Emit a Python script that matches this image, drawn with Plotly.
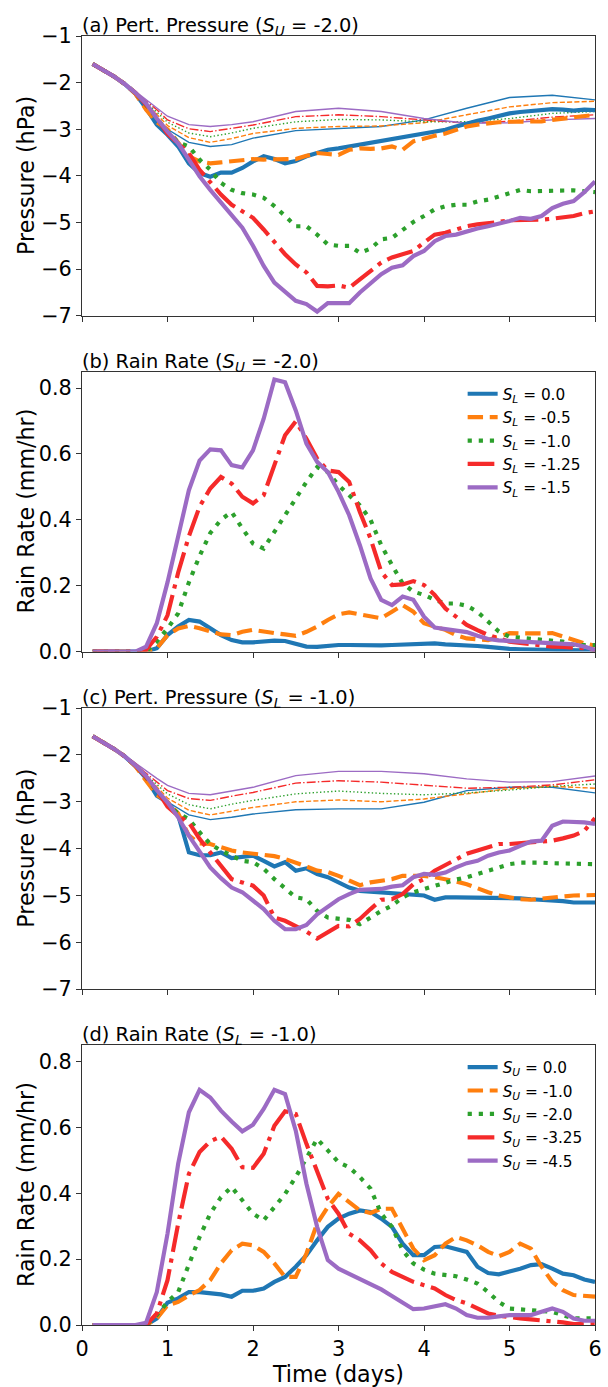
import plotly.graph_objects as go

# ---------------- data ----------------
T = [0.125, 0.25, 0.375, 0.5, 0.625, 0.75, 0.875, 1.0, 1.125, 1.25, 1.375, 1.5,
     1.625, 1.75, 1.875, 2.0, 2.125, 2.25, 2.375, 2.5, 2.625, 2.75, 2.875, 3.0,
     3.125, 3.25, 3.375, 3.5, 3.625, 3.75, 3.875, 4.0, 4.125, 4.25, 4.375, 4.5,
     4.625, 4.75, 4.875, 5.0, 5.125, 5.25, 5.375, 5.5, 5.625, 5.75, 5.875, 6.0]
TT = [0.125, 0.25, 0.5, 0.75, 0.875, 1.0, 1.25, 1.5, 1.75, 2.0, 2.5, 3.0, 3.5,
      4.0, 4.5, 5.0, 5.5, 6.0]

SL_labels = ["0.0", "-0.5", "-1.0", "-1.25", "-1.5"]
SU_labels = ["0.0", "-1.0", "-2.0", "-3.25", "-4.5"]

# (a) pressure, S_U = -2.0, thick lines
pa_blue = [-1.6, -1.73, -1.87, -2.03, -2.24, -2.55, -2.9, -3.12, -3.37, -3.73, -3.94, -4.02,
           -3.93, -3.93, -3.83, -3.69, -3.58, -3.64, -3.73, -3.68, -3.58, -3.51, -3.44, -3.41,
           -3.37, -3.33, -3.30, -3.27, -3.23, -3.19, -3.14, -3.09, -3.05, -3.01, -2.94, -2.87,
           -2.82, -2.77, -2.71, -2.66, -2.63, -2.61, -2.59, -2.57, -2.58, -2.60, -2.58, -2.59]
pa_orange = [-1.6, -1.73, -1.87, -2.03, -2.24, -2.58, -2.85, -3.0, -3.28, -3.58, -3.69, -3.73,
             -3.71, -3.69, -3.66, -3.64, -3.65, -3.65, -3.66, -3.64, -3.57, -3.51, -3.53, -3.55,
             -3.44, -3.41, -3.42, -3.41, -3.37, -3.44, -3.26, -3.19, -3.14, -3.09, -3.02, -2.94,
             -2.90, -2.87, -2.85, -2.84, -2.84, -2.84, -2.83, -2.80, -2.77, -2.73, -2.71, -2.69]
pa_green = [-1.6, -1.73, -1.87, -2.03, -2.22, -2.48, -2.78, -3.05, -3.28, -3.37, -3.65, -3.87,
            -4.15, -4.3, -4.37, -4.4, -4.47, -4.65, -4.86, -5.08, -5.08, -5.26, -5.47, -5.5,
            -5.5, -5.65, -5.56, -5.36, -5.33, -5.15, -4.99, -4.86, -4.72, -4.65, -4.62, -4.62,
            -4.55, -4.51, -4.44, -4.38, -4.3, -4.33, -4.32, -4.33, -4.32, -4.31, -4.33, -4.35]
pa_red = [-1.6, -1.73, -1.87, -2.03, -2.22, -2.47, -2.75, -3.1, -3.3, -3.51, -3.87, -4.15,
          -4.4, -4.62, -4.76, -4.9, -5.15, -5.43, -5.68, -5.9, -6.07, -6.36, -6.37, -6.35,
          -6.4, -6.22, -6.04, -5.86, -5.75, -5.68, -5.61, -5.43, -5.26, -5.22, -5.15, -5.08,
          -5.04, -5.02, -4.99, -4.95, -4.95, -4.95, -4.94, -4.92, -4.9, -4.86, -4.8, -4.76]
pa_purple = [-1.6, -1.73, -1.87, -2.03, -2.22, -2.45, -2.77, -3.05, -3.3, -3.65, -4.01, -4.3,
             -4.58, -4.83, -5.11, -5.5, -5.93, -6.29, -6.5, -6.68, -6.75, -6.91, -6.73, -6.73,
             -6.73, -6.5, -6.29, -6.11, -5.97, -5.92, -5.72, -5.61, -5.4, -5.29, -5.26, -5.19,
             -5.13, -5.08, -5.03, -4.97, -4.9, -4.92, -4.86, -4.69, -4.6, -4.54, -4.35, -4.12]
# (a) thin lines
pa_blue_t = [-1.6, -1.73, -2.05, -2.5, -2.75, -3.0, -3.28, -3.37, -3.33, -3.19, -3.03, -2.98,
             -2.94, -2.8, -2.55, -2.32, -2.27, -2.37]
pa_orange_t = [-1.6, -1.73, -2.04, -2.45, -2.68, -2.92, -3.18, -3.28, -3.2, -3.09, -2.98, -2.94,
               -2.93, -2.86, -2.69, -2.52, -2.43, -2.4]
pa_green_t = [-1.6, -1.73, -2.03, -2.42, -2.63, -2.85, -3.08, -3.16, -3.08, -2.98, -2.84, -2.79,
              -2.8, -2.84, -2.84, -2.77, -2.66, -2.62]
pa_red_t = [-1.6, -1.73, -2.02, -2.4, -2.58, -2.8, -2.99, -3.05, -2.98, -2.91, -2.73, -2.69,
            -2.73, -2.8, -2.87, -2.83, -2.74, -2.69]
pa_purple_t = [-1.6, -1.73, -2.01, -2.37, -2.55, -2.72, -2.9, -2.94, -2.9, -2.84, -2.62, -2.55,
               -2.62, -2.77, -2.87, -2.86, -2.8, -2.77]

# (b) rain rate, S_U = -2.0
rb_blue = [0, 0, 0, 0, 0, 0, 0.01, 0.05, 0.076, 0.096, 0.091, 0.071,
           0.05, 0.035, 0.028, 0.028, 0.032, 0.033, 0.032, 0.022, 0.015, 0.014, 0.018, 0.02,
           0.02, 0.019, 0.02, 0.019, 0.02, 0.021, 0.022, 0.022, 0.025, 0.022, 0.021, 0.02,
           0.017, 0.014, 0.01, 0.008, 0.007, 0.006, 0.006, 0.006, 0.005, 0.004, 0.003, 0.003]
rb_orange = [0, 0, 0, 0, 0, 0, 0.01, 0.05, 0.07, 0.078, 0.071, 0.06,
             0.052, 0.05, 0.06, 0.066, 0.06, 0.056, 0.052, 0.048, 0.06, 0.076, 0.096, 0.113,
             0.119, 0.113, 0.106, 0.101, 0.121, 0.141, 0.121, 0.086, 0.076, 0.066, 0.05, 0.04,
             0.037, 0.035, 0.045, 0.056, 0.055, 0.054, 0.055, 0.056, 0.045, 0.035, 0.025, 0.018]
rb_green = [0, 0, 0, 0, 0, 0, 0.03, 0.07, 0.116, 0.21, 0.29, 0.36,
            0.40, 0.424, 0.374, 0.328, 0.313, 0.364, 0.414, 0.465, 0.515, 0.56, 0.545, 0.505,
            0.475, 0.444, 0.40, 0.323, 0.263, 0.207, 0.182, 0.172, 0.157, 0.146, 0.146, 0.139,
            0.121, 0.091, 0.061, 0.045, 0.042, 0.04, 0.037, 0.035, 0.03, 0.02, 0.02, 0.02]
rb_red = [0, 0, 0, 0, 0, 0.005, 0.045, 0.11, 0.24, 0.35, 0.44, 0.495,
          0.53, 0.51, 0.47, 0.45, 0.475, 0.566, 0.657, 0.699, 0.646, 0.586, 0.55, 0.545,
          0.515, 0.424, 0.343, 0.242, 0.202, 0.204, 0.214, 0.202, 0.172, 0.131, 0.105, 0.081,
          0.065, 0.05, 0.04, 0.03, 0.026, 0.022, 0.018, 0.015, 0.014, 0.013, 0.01, 0.005]
rb_purple = [0, 0, 0, 0, 0, 0.015, 0.086, 0.21, 0.35, 0.49, 0.58, 0.614,
             0.611, 0.566, 0.559, 0.611, 0.707, 0.826, 0.818, 0.732, 0.631, 0.576, 0.545, 0.485,
             0.414, 0.323, 0.222, 0.157, 0.141, 0.167, 0.157, 0.106, 0.073, 0.068, 0.064, 0.059,
             0.048, 0.038, 0.034, 0.032, 0.03, 0.028, 0.026, 0.025, 0.023, 0.022, 0.015, 0.005]

# (c) pressure, S_L = -1.0, thick lines
pc_blue = [-1.6, -1.73, -1.87, -2.03, -2.24, -2.5, -2.87, -3.01, -3.29, -4.08, -4.14, -4.14,
           -4.08, -4.2, -4.18, -4.15, -4.26, -4.38, -4.29, -4.47, -4.42, -4.54, -4.61, -4.72,
           -4.83, -4.9, -4.92, -4.93, -4.95, -4.97, -4.98, -5.0, -5.09, -5.04, -5.04, -5.04,
           -5.05, -5.06, -5.05, -5.04, -5.06, -5.08, -5.09, -5.1, -5.12, -5.15, -5.15, -5.15]
pc_orange = [-1.6, -1.73, -1.87, -2.03, -2.24, -2.55, -2.85, -3.0, -3.25, -3.72, -3.89, -3.9,
             -3.97, -4.04, -4.08, -4.11, -4.14, -4.16, -4.22, -4.29, -4.38, -4.47, -4.5, -4.58,
             -4.68, -4.78, -4.72, -4.68, -4.65, -4.58, -4.58, -4.58, -4.61, -4.65, -4.7, -4.76,
             -4.85, -4.93, -5.0, -5.04, -5.08, -5.09, -5.06, -5.04, -5.02, -5.0, -4.99, -4.99]
pc_green = [-1.6, -1.73, -1.87, -2.03, -2.22, -2.48, -2.78, -3.05, -3.25, -3.37, -3.65, -3.9,
            -4.04, -4.15, -4.26, -4.29, -4.43, -4.65, -4.86, -5.04, -5.08, -5.33, -5.47, -5.49,
            -5.52, -5.61, -5.47, -5.33, -5.22, -5.04, -4.93, -4.86, -4.78, -4.71, -4.66, -4.61,
            -4.54, -4.47, -4.4, -4.33, -4.3, -4.29, -4.3, -4.31, -4.31, -4.31, -4.32, -4.33]
pc_red = [-1.6, -1.73, -1.87, -2.03, -2.22, -2.47, -2.75, -3.1, -3.3, -3.44, -3.79, -4.08,
          -4.36, -4.65, -4.72, -4.79, -5.0, -5.47, -5.54, -5.65, -5.77, -5.92, -5.79, -5.65,
          -5.66, -5.5, -5.29, -5.09, -5.08, -4.97, -4.76, -4.65, -4.47, -4.35, -4.22, -4.11,
          -4.04, -3.97, -3.9, -3.9, -3.88, -3.86, -3.85, -3.83, -3.78, -3.72, -3.62, -3.35]
pc_purple = [-1.6, -1.73, -1.87, -2.03, -2.22, -2.45, -2.75, -3.01, -3.33, -3.72, -4.08, -4.4,
             -4.63, -4.83, -4.93, -5.11, -5.29, -5.54, -5.72, -5.72, -5.63, -5.4, -5.25, -5.08,
             -4.97, -4.88, -4.87, -4.86, -4.81, -4.78, -4.61, -4.54, -4.56, -4.51, -4.4, -4.31,
             -4.26, -4.15, -4.08, -4.04, -3.94, -3.85, -3.83, -3.51, -3.42, -3.42, -3.44, -3.47]
# (c) thin lines
pc_blue_t = [-1.6, -1.73, -2.05, -2.5, -2.75, -3.0, -3.28, -3.38, -3.33, -3.26, -3.17, -3.15,
             -3.15, -3.01, -2.76, -2.69, -2.69, -2.81]
pc_orange_t = [-1.6, -1.73, -2.04, -2.45, -2.68, -2.92, -3.18, -3.28, -3.2, -3.12, -3.0, -2.96,
               -3.0, -2.94, -2.83, -2.72, -2.67, -2.71]
pc_green_t = [-1.6, -1.73, -2.03, -2.42, -2.62, -2.83, -3.06, -3.15, -3.05, -2.97, -2.83, -2.77,
              -2.82, -2.85, -2.81, -2.75, -2.67, -2.62]
pc_red_t = [-1.6, -1.73, -2.02, -2.38, -2.56, -2.76, -2.93, -2.97, -2.88, -2.8, -2.6, -2.55,
            -2.58, -2.65, -2.71, -2.69, -2.64, -2.53]
pc_purple_t = [-1.6, -1.73, -2.01, -2.35, -2.5, -2.65, -2.82, -2.85, -2.77, -2.69, -2.44, -2.35,
               -2.35, -2.4, -2.51, -2.58, -2.57, -2.45]

# (d) rain rate, S_L = -1.0
rd_blue = [0, 0, 0, 0, 0, 0, 0.02, 0.068, 0.081, 0.1, 0.1, 0.098,
           0.093, 0.086, 0.104, 0.104, 0.111, 0.131, 0.146, 0.177, 0.212, 0.257, 0.298, 0.323,
           0.338, 0.348, 0.343, 0.323, 0.298, 0.247, 0.212, 0.212, 0.237, 0.239, 0.232, 0.222,
           0.177, 0.158, 0.154, 0.161, 0.171, 0.182, 0.185, 0.171, 0.156, 0.151, 0.138, 0.131]
rd_orange = [0, 0, 0, 0, 0, 0, 0.02, 0.06, 0.07, 0.09, 0.106, 0.136,
             0.187, 0.227, 0.247, 0.242, 0.222, 0.187, 0.146, 0.146, 0.217, 0.308, 0.358, 0.398,
             0.373, 0.348, 0.34, 0.353, 0.353, 0.293, 0.232, 0.197, 0.212, 0.247, 0.267, 0.257,
             0.242, 0.222, 0.209, 0.222, 0.247, 0.232, 0.177, 0.131, 0.106, 0.091, 0.087, 0.086]
rd_green = [0, 0, 0, 0, 0, 0, 0.03, 0.07, 0.1, 0.187, 0.267, 0.338,
            0.388, 0.419, 0.378, 0.338, 0.318, 0.358, 0.398, 0.449, 0.509, 0.565, 0.53, 0.494,
            0.479, 0.449, 0.414, 0.338, 0.298, 0.227, 0.187, 0.168, 0.156, 0.151, 0.148, 0.138,
            0.126, 0.1, 0.07, 0.05, 0.047, 0.045, 0.043, 0.04, 0.03, 0.02, 0.02, 0.02]
rd_red = [0, 0, 0, 0, 0, 0, 0.035, 0.136, 0.308, 0.459, 0.525, 0.558,
          0.572, 0.535, 0.479, 0.477, 0.52, 0.605, 0.649, 0.641, 0.55, 0.469, 0.383, 0.338,
          0.277, 0.257, 0.227, 0.187, 0.161, 0.146, 0.131, 0.121, 0.111, 0.091, 0.076, 0.066,
          0.05, 0.035, 0.028, 0.023, 0.02, 0.017, 0.015, 0.012, 0.008, 0.003, 0.003, 0.003]
rd_purple = [0, 0, 0, 0, 0, 0.007, 0.1, 0.277, 0.49, 0.646, 0.714, 0.691,
             0.651, 0.618, 0.588, 0.608, 0.656, 0.714, 0.701, 0.59, 0.429, 0.298, 0.197, 0.171,
             0.156, 0.138, 0.126, 0.108, 0.088, 0.068, 0.048, 0.05, 0.058, 0.063, 0.05, 0.03,
             0.022, 0.022, 0.026, 0.03, 0.03, 0.03, 0.04, 0.05, 0.04, 0.02, 0.013, 0.013]

x_ticks = [0, 1, 2, 3, 4, 5, 6]
p_ticks = [-7, -6, -5, -4, -3, -2, -1]
r_ticks = [0.0, 0.2, 0.4, 0.6, 0.8]

# ---------------- styles ----------------
COLORS = ["#1f77b4", "#ff7f0e", "#2ca02c", "#f52a2a", "#9c6bc4"]
DASH_THICK = ["solid", "15.4px,6.7px", "4.2px,6.9px", "26.7px,6.7px,4.2px,6.7px", "solid"]
DASH_THIN = ["solid", "5.1px,2.2px", "1.4px,2.3px", "8.9px,2.2px,1.4px,2.2px", "solid"]
W_THICK = 4.17
W_THIN = 1.39
FONT = "DejaVu Sans"
TICK_SIZE = 20.8
LABEL_SIZE = 22.2
TITLE_SIZE = 19.4
LEGEND_SIZE = 15.3

# panel domains (paper y)
DOM = {1: [0.78297, 1.0], 2: [0.52245, 0.73963], 3: [0.26053, 0.47856], 4: [0.0, 0.21718]}

fig = go.Figure()


def add(row, x, y, k, thick, legend=None, name=None):
    xa = "x" if row == 1 else f"x{row}"
    ya = "y" if row == 1 else f"y{row}"
    tr = go.Scatter(
        x=x, y=y, mode="lines", xaxis=xa, yaxis=ya,
        line=dict(color=COLORS[k], width=W_THICK if thick else W_THIN,
                  dash=DASH_THICK[k] if thick else DASH_THIN[k]),
        showlegend=legend is not None, hoverinfo="skip",
    )
    if legend is not None:
        tr.update(name=name, legend=legend, legendgroup=f"{legend}{k}")
    fig.add_trace(tr)


pa_thin = [pa_blue_t, pa_orange_t, pa_green_t, pa_red_t, pa_purple_t]
pa_thick = [pa_blue, pa_orange, pa_green, pa_red, pa_purple]
pc_thin = [pc_blue_t, pc_orange_t, pc_green_t, pc_red_t, pc_purple_t]
pc_thick = [pc_blue, pc_orange, pc_green, pc_red, pc_purple]
rb = [rb_blue, rb_orange, rb_green, rb_red, rb_purple]
rd = [rd_blue, rd_orange, rd_green, rd_red, rd_purple]

for k in range(5):
    add(1, TT, pa_thin[k], k, False)
for k in range(5):
    add(1, T, pa_thick[k], k, True)
for k in range(5):
    add(2, T, rb[k], k, True, "legend",
        f"<i>S</i><sub><i>L</i></sub> = {SL_labels[k]}")
for k in range(5):
    add(3, TT, pc_thin[k], k, False)
for k in range(5):
    add(3, T, pc_thick[k], k, True)
for k in range(5):
    add(4, T, rd[k], k, True, "legend2",
        f"<i>S</i><sub><i>U</i></sub> = {SU_labels[k]}")

AX = "#333333"
common_x = dict(range=[0, 6], tickvals=x_ticks, ticks="outside", ticklen=5, tickwidth=1,
                tickcolor=AX, showline=True, linecolor=AX, linewidth=1, mirror=True,
                showgrid=False, zeroline=False, tickfont=dict(size=TICK_SIZE, color="black"),
                domain=[0, 1])
common_y = dict(ticks="outside", ticklen=5, tickwidth=1, tickcolor=AX, showline=True,
                linecolor=AX, linewidth=1, mirror=True, showgrid=False, zeroline=False,
                tickfont=dict(size=TICK_SIZE, color="black"))

layout = dict(
    width=608, height=1387,
    margin=dict(l=82, r=6, t=36, b=59),
    paper_bgcolor="white", plot_bgcolor="white",
    font=dict(family=FONT, color="black"),
)
for r in range(1, 5):
    xs = "xaxis" if r == 1 else f"xaxis{r}"
    ys = "yaxis" if r == 1 else f"yaxis{r}"
    ya = "y" if r == 1 else f"y{r}"
    xd = dict(common_x, anchor=ya, showticklabels=(r == 4))
    if r == 4:
        xd["title"] = dict(text="Time (days)", font=dict(size=LABEL_SIZE), standoff=5)
    layout[xs] = xd
    xa = "x" if r == 1 else f"x{r}"
    if r in (1, 3):
        yd = dict(common_y, range=[-7, -1], tickvals=p_ticks)
    else:
        yd = dict(common_y, range=[0, 0.85], tickvals=r_ticks, tickformat=".1f")
    yd.update(domain=DOM[r], anchor=xa)
    layout[ys] = yd

leg = dict(xanchor="left", yanchor="top", font=dict(size=LEGEND_SIZE, family=FONT),
           bgcolor="rgba(0,0,0,0)", borderwidth=0, tracegroupgap=0.5, itemwidth=30)
layout["legend"] = dict(leg, x=0.742, y=0.7352)
layout["legend2"] = dict(leg, x=0.742, y=0.2128)

titles = [
    (1, "(a) Pert. Pressure (<i>S</i><sub><i>U</i></sub> = -2.0)"),
    (2, "(b) Rain Rate (<i>S</i><sub><i>U</i></sub> = -2.0)"),
    (3, "(c) Pert. Pressure (<i>S</i><sub><i>L</i></sub> = -1.0)"),
    (4, "(d) Rain Rate (<i>S</i><sub><i>L</i></sub> = -1.0)"),
]
ylabels = [(1, "Pressure (hPa)"), (2, "Rain Rate (mm/hr)"),
           (3, "Pressure (hPa)"), (4, "Rain Rate (mm/hr)")]
ann = [
    dict(text=t, x=0, y=DOM[r][1], xref="paper", yref="paper", xanchor="left",
         yanchor="bottom", showarrow=False, font=dict(size=TITLE_SIZE, family=FONT),
         xshift=-2, yshift=-5)
    for r, t in titles
]
ann += [
    dict(text=t, x=0, y=(DOM[r][0] + DOM[r][1]) / 2, xref="paper", yref="paper",
         xanchor="center", yanchor="middle", textangle=-90, showarrow=False,
         font=dict(size=LABEL_SIZE, family=FONT), xshift=-56)
    for r, t in ylabels
]
layout["annotations"] = ann

fig.update_layout(**layout)
fig.write_html("out.html")
